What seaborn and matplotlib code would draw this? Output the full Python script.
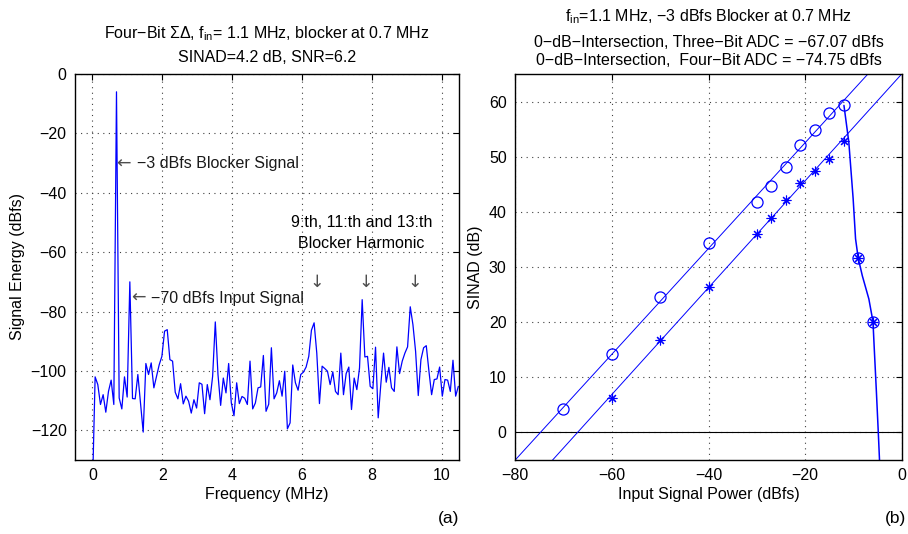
import matplotlib
matplotlib.use("Agg")
import matplotlib.pyplot as plt
import numpy as np
import pandas as pd
import seaborn as sns

# ---------------- data: left panel (spectrum) ----------------
freq_step_mhz = 0.0765
spectrum_db = [
    -140.0, -102.0, -104.6, -111.3, -108.0, -113.9, -106.9, -103.1, -111.3, -6.0,
    -109.1, -112.8, -102.0, -108.8, -70.0, -109.3, -109.4, -101.2, -110.8, -120.6,
    -97.5, -101.2, -97.3, -105.7, -101.8, -97.9, -95.1, -86.6, -86.1, -96.2,
    -96.7, -107.2, -109.4, -104.3, -111.1, -108.5, -110.2, -114.2, -109.7, -112.5,
    -104.0, -104.5, -114.4, -104.6, -109.7, -101.8, -83.5, -101.2, -111.6, -102.4,
    -107.4, -97.5, -110.8, -115.1, -104.0, -111.0, -108.6, -109.2, -111.3, -96.7,
    -112.8, -110.8, -105.7, -105.4, -94.8, -113.6, -111.2, -92.2, -109.4, -107.4,
    -103.3, -108.5, -100.1, -119.5, -117.5, -98.0, -104.0, -106.5, -101.2, -100.4,
    -98.7, -95.1, -86.3, -83.8, -94.0, -111.0, -98.4, -99.2, -100.1, -104.6,
    -100.3, -106.9, -108.0, -94.0, -108.0, -100.9, -98.7, -113.0, -102.4, -106.3,
    -99.0, -76.0, -95.3, -95.1, -105.2, -106.0, -92.0, -115.8, -104.3, -94.0,
    -103.8, -98.8, -105.7, -106.9, -91.9, -100.9, -96.7, -94.0, -91.9, -78.4,
    -84.4, -93.4, -108.3, -96.2, -92.2, -91.5, -100.1, -108.0, -102.9, -102.7,
    -98.7, -108.5, -102.9, -103.1, -106.9, -96.4, -108.5, -105.2,
]
harmonic_freqs = [6.43, 7.83, 9.24]
left_xticks = [0, 2, 4, 6, 8, 10]
left_yticks = [0, -20, -40, -60, -80, -100, -120]

# ---------------- data: right panel (SINAD) ----------------
power_dbfs = [-70, -60, -50, -40, -30, -27, -24, -21, -18, -15, -12, -9, -6]
sinad_four_bit = [4.2, 14.2, 24.5, 34.3, 41.8, 44.6, 48.1, 52.2, 54.9, 58.0, 59.3, 31.6, 20.1]
power_three = [-60, -50, -40, -30, -27, -24, -21, -18, -15, -12, -9, -6]
sinad_three_bit = [6.3, 16.7, 26.3, 36.0, 38.8, 42.1, 45.3, 47.5, 49.5, 52.8, 31.6, 20.1]
rolloff_power = [-12.0, -11.0, -10.1, -9.6, -9.05, -8.2, -6.85, -6.0, -5.75, -5.3, -4.9, -4.6]
rolloff_sinad = [59.3, 52.7, 42.4, 35.1, 31.6, 28.4, 24.2, 20.1, 15.5, 7.5, 0.0, -6.0]
intersect_four = -74.75
intersect_three = -67.07
slope_four = 0.96
slope_three = 0.97
fit_range = [-80, 0]
right_xticks = [-80, -60, -40, -20, 0]
right_yticks = [0, 10, 20, 30, 40, 50, 60]

# ---------------- style ----------------
sns.set_theme(style="white")
plt.rcParams["font.family"] = ["Liberation Sans", "DejaVu Sans"]
plt.rcParams["mathtext.fontset"] = "custom"
plt.rcParams["mathtext.rm"] = "Liberation Sans"
plt.rcParams["mathtext.it"] = "Liberation Sans"
plt.rcParams["axes.unicode_minus"] = True
plt.rcParams["text.color"] = "black"
plt.rcParams["axes.labelcolor"] = "black"
FS = 11.5
BLUE = "#0000ff"
ARROW_FONT = ["DejaVu Sans"]

fig = plt.figure(figsize=(9.08, 5.34), dpi=100)
ax1 = fig.add_axes([75 / 908, 74 / 534, 384 / 908, 386 / 534])
ax2 = fig.add_axes([515 / 908, 74 / 534, 387 / 908, 386 / 534])

def style_axes(ax):
    for s in ax.spines.values():
        s.set_visible(True)
        s.set_color("black")
        s.set_linewidth(1.0)
    ax.tick_params(direction="in", top=True, right=True, length=4,
                   width=0.8, colors="black", labelsize=FS, pad=6)
    ax.grid(True, linestyle=(0, (1, 4)), color="0.25", linewidth=0.8)
    ax.set_axisbelow(True)

# ---------------- left panel ----------------
freq = np.arange(len(spectrum_db)) * freq_step_mhz
spec_df = pd.DataFrame({"f": freq, "db": spectrum_db})
sns.lineplot(data=spec_df, x="f", y="db", ax=ax1, color=BLUE, linewidth=0.9,
             sort=False, estimator=None)
ax1.set_xlim(-0.5, 10.5)
ax1.set_ylim(-130, 0)
ax1.set_xticks(left_xticks)
ax1.set_yticks(left_yticks)
style_axes(ax1)
ax1.set_xlabel("Frequency (MHz)", fontsize=FS, labelpad=3)
ax1.set_ylabel("Signal Energy (dBfs)", fontsize=FS, labelpad=4)

ax1.text(0.69, -30.2, "\u2190", fontsize=FS + 1, family=ARROW_FONT,
         ha="left", va="center", color="0.3")
ax1.text(1.27, -30.2, "\u22123 dBfs Blocker Signal", fontsize=FS,
         ha="left", va="center", color="0.1")
ax1.text(1.10, -75.5, "\u2190", fontsize=FS + 1, family=ARROW_FONT,
         ha="left", va="center", color="0.3")
ax1.text(1.68, -75.5, "\u221270 dBfs Input Signal", fontsize=FS,
         ha="left", va="center", color="0.1")
ax1.text(7.70, -50.1, "9:th, 11:th and 13:th", fontsize=FS, ha="center", va="center")
ax1.text(7.70, -57.0, "Blocker Harmonic", fontsize=FS, ha="center", va="center")
for hf in harmonic_freqs:
    ax1.text(hf, -70.1, "\u2193", fontsize=FS + 1, family=ARROW_FONT,
             ha="center", va="center", color="0.3")

ax1.text(0.5, 1.092, "Four\u2212Bit \u03a3\u0394, f$_{\\mathregular{in}}$= 1.1 MHz, blocker at 0.7 MHz",
         transform=ax1.transAxes, ha="center", va="baseline", fontsize=FS)
ax1.text(0.5, 1.030, "SINAD=4.2 dB, SNR=6.2", transform=ax1.transAxes,
         ha="center", va="baseline", fontsize=FS)

# ---------------- right panel ----------------
ax2.axhline(0, color="black", linewidth=0.8)
fit_p = np.array(fit_range, dtype=float)
sns.lineplot(x=fit_p, y=slope_four * (fit_p - intersect_four), ax=ax2,
             color=BLUE, linewidth=0.7, sort=False, estimator=None)
sns.lineplot(x=fit_p, y=slope_three * (fit_p - intersect_three), ax=ax2,
             color=BLUE, linewidth=0.7, sort=False, estimator=None)
sns.lineplot(x=rolloff_power, y=rolloff_sinad, ax=ax2, color=BLUE,
             linewidth=1.1, sort=False, estimator=None)
sns.lineplot(x=power_dbfs, y=sinad_four_bit, ax=ax2, linestyle="", marker="o",
             markersize=8, markerfacecolor="none", markeredgecolor=BLUE,
             markeredgewidth=0.9, sort=False, estimator=None)
sns.lineplot(x=power_three, y=sinad_three_bit, ax=ax2, linestyle="", marker=(8, 2, 0),
             markersize=7, markeredgecolor=BLUE, color=BLUE,
             markeredgewidth=0.8, sort=False, estimator=None)
ax2.set_xlim(-80, 0)
ax2.set_ylim(-5, 65)
ax2.set_xticks(right_xticks)
ax2.set_yticks(right_yticks)
style_axes(ax2)
ax2.set_xlabel("Input Signal Power (dBfs)", fontsize=FS, labelpad=3)
ax2.set_ylabel("SINAD (dB)", fontsize=FS, labelpad=4)

ax2.text(0.5, 1.1355, "f$_{\\mathregular{in}}$=1.1 MHz, \u22123 dBfs Blocker at 0.7 MHz",
         transform=ax2.transAxes, ha="center", va="baseline", fontsize=FS)
ax2.text(0.5, 1.0707, "0\u2212dB\u2212Intersection, Three\u2212Bit ADC = \u221267.07 dBfs",
         transform=ax2.transAxes, ha="center", va="baseline", fontsize=FS)
ax2.text(0.5, 1.0233, "0\u2212dB\u2212Intersection,  Four\u2212Bit ADC = \u221274.75 dBfs",
         transform=ax2.transAxes, ha="center", va="baseline", fontsize=FS)

fig.text(459 / 908, 1 - 519 / 534, "(a)", ha="right", va="center", fontsize=FS + 1)
fig.text(906 / 908, 1 - 519 / 534, "(b)", ha="right", va="center", fontsize=FS + 1)

fig.savefig("out.png", dpi=100)
